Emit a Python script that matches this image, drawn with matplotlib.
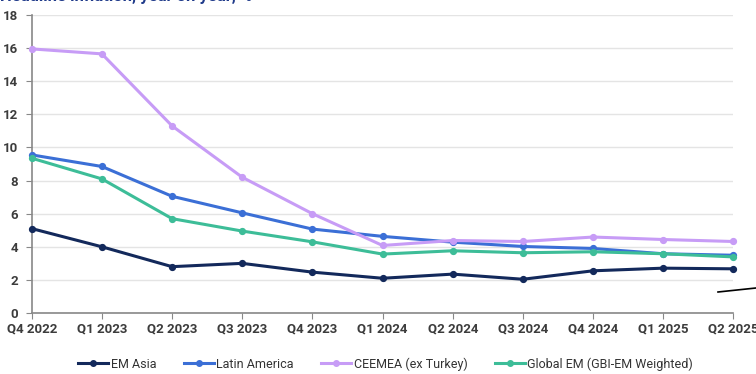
import matplotlib.pyplot as plt
import matplotlib as mpl
from matplotlib.lines import Line2D

quarters = ['Q4 2022', 'Q1 2023', 'Q2 2023', 'Q3 2023', 'Q4 2023', 'Q1 2024',
            'Q2 2024', 'Q3 2024', 'Q4 2024', 'Q1 2025', 'Q2 2025']
em_asia = [5.1, 4.0, 2.8, 3.0, 2.47, 2.1, 2.35, 2.04, 2.55, 2.71, 2.67]
latin_america = [9.55, 8.85, 7.05, 6.05, 5.07, 4.63, 4.28, 4.02, 3.9, 3.58, 3.49]
ceemea = [15.95, 15.65, 11.3, 8.2, 6.0, 4.08, 4.38, 4.32, 4.59, 4.44, 4.32]
global_em = [9.35, 8.1, 5.7, 4.95, 4.3, 3.56, 3.76, 3.64, 3.7, 3.58, 3.39]

series = [
    ('EM Asia', em_asia, '#13295b'),
    ('Latin America', latin_america, '#3b6fd6'),
    ('CEEMEA (ex Turkey)', ceemea, '#c79cf6'),
    ('Global EM (GBI-EM Weighted)', global_em, '#3dbd98'),
]

mpl.rcParams['font.family'] = ['Roboto', 'DejaVu Sans']

fig = plt.figure(figsize=(7.56, 3.74), dpi=100)
ax = fig.add_axes([0.042, 0.163, 0.928, 0.797])

x = list(range(len(quarters)))
for name, vals, col in series:
    ax.plot(x, vals, color=col, lw=2.2, marker='o', ms=4.2, label=name,
            solid_joinstyle='round', zorder=3, clip_on=False)

ax.set_ylim(0, 18)
ax.set_yticks(range(0, 19, 2))
ax.set_xlim(0, len(quarters) - 1)
ax.set_xticks(x)
ax.set_xticklabels(quarters)
ax.grid(axis='y', color='#e4e4e4', lw=1)
ax.set_axisbelow(True)
for s in ['top', 'right']:
    ax.spines[s].set_visible(False)
for s in ['left', 'bottom']:
    ax.spines[s].set_color('#888888')
    ax.spines[s].set_linewidth(1.2)
ax.tick_params(axis='x', length=4, color='#888888', labelsize=9.5,
               labelcolor='#3c3c3c', pad=3)
ax.tick_params(axis='y', length=4, color='#888888', labelsize=9.5,
               labelcolor='#3c3c3c', pad=6)
for lab in ax.get_xticklabels() + ax.get_yticklabels():
    lab.set_fontweight('bold')

# chart title, sitting at the very top edge
fig.text(0.0, 1 - 1 / 374, 'Headline inflation, year on year, %', fontsize=12,
         fontweight='bold', color='#1f3a8a', ha='left', va='baseline')

handles = [Line2D([0], [0], color=col, lw=2.2, marker='o', ms=4)
           for _, _, col in series]
fig.legend(handles, [s[0] for s in series], loc='center',
           bbox_to_anchor=(0.51, 0.027), ncol=4, frameon=False, fontsize=9,
           handlelength=2.4, handletextpad=0.2, columnspacing=2.2,
           labelcolor='#333333')

# short stray stroke at the lower right
fig.add_artist(Line2D([718 / 756, 1.0], [1 - 292 / 374, 1 - 288 / 374],
                      color='black', lw=1.2))

fig.savefig('out.png', dpi=100)
